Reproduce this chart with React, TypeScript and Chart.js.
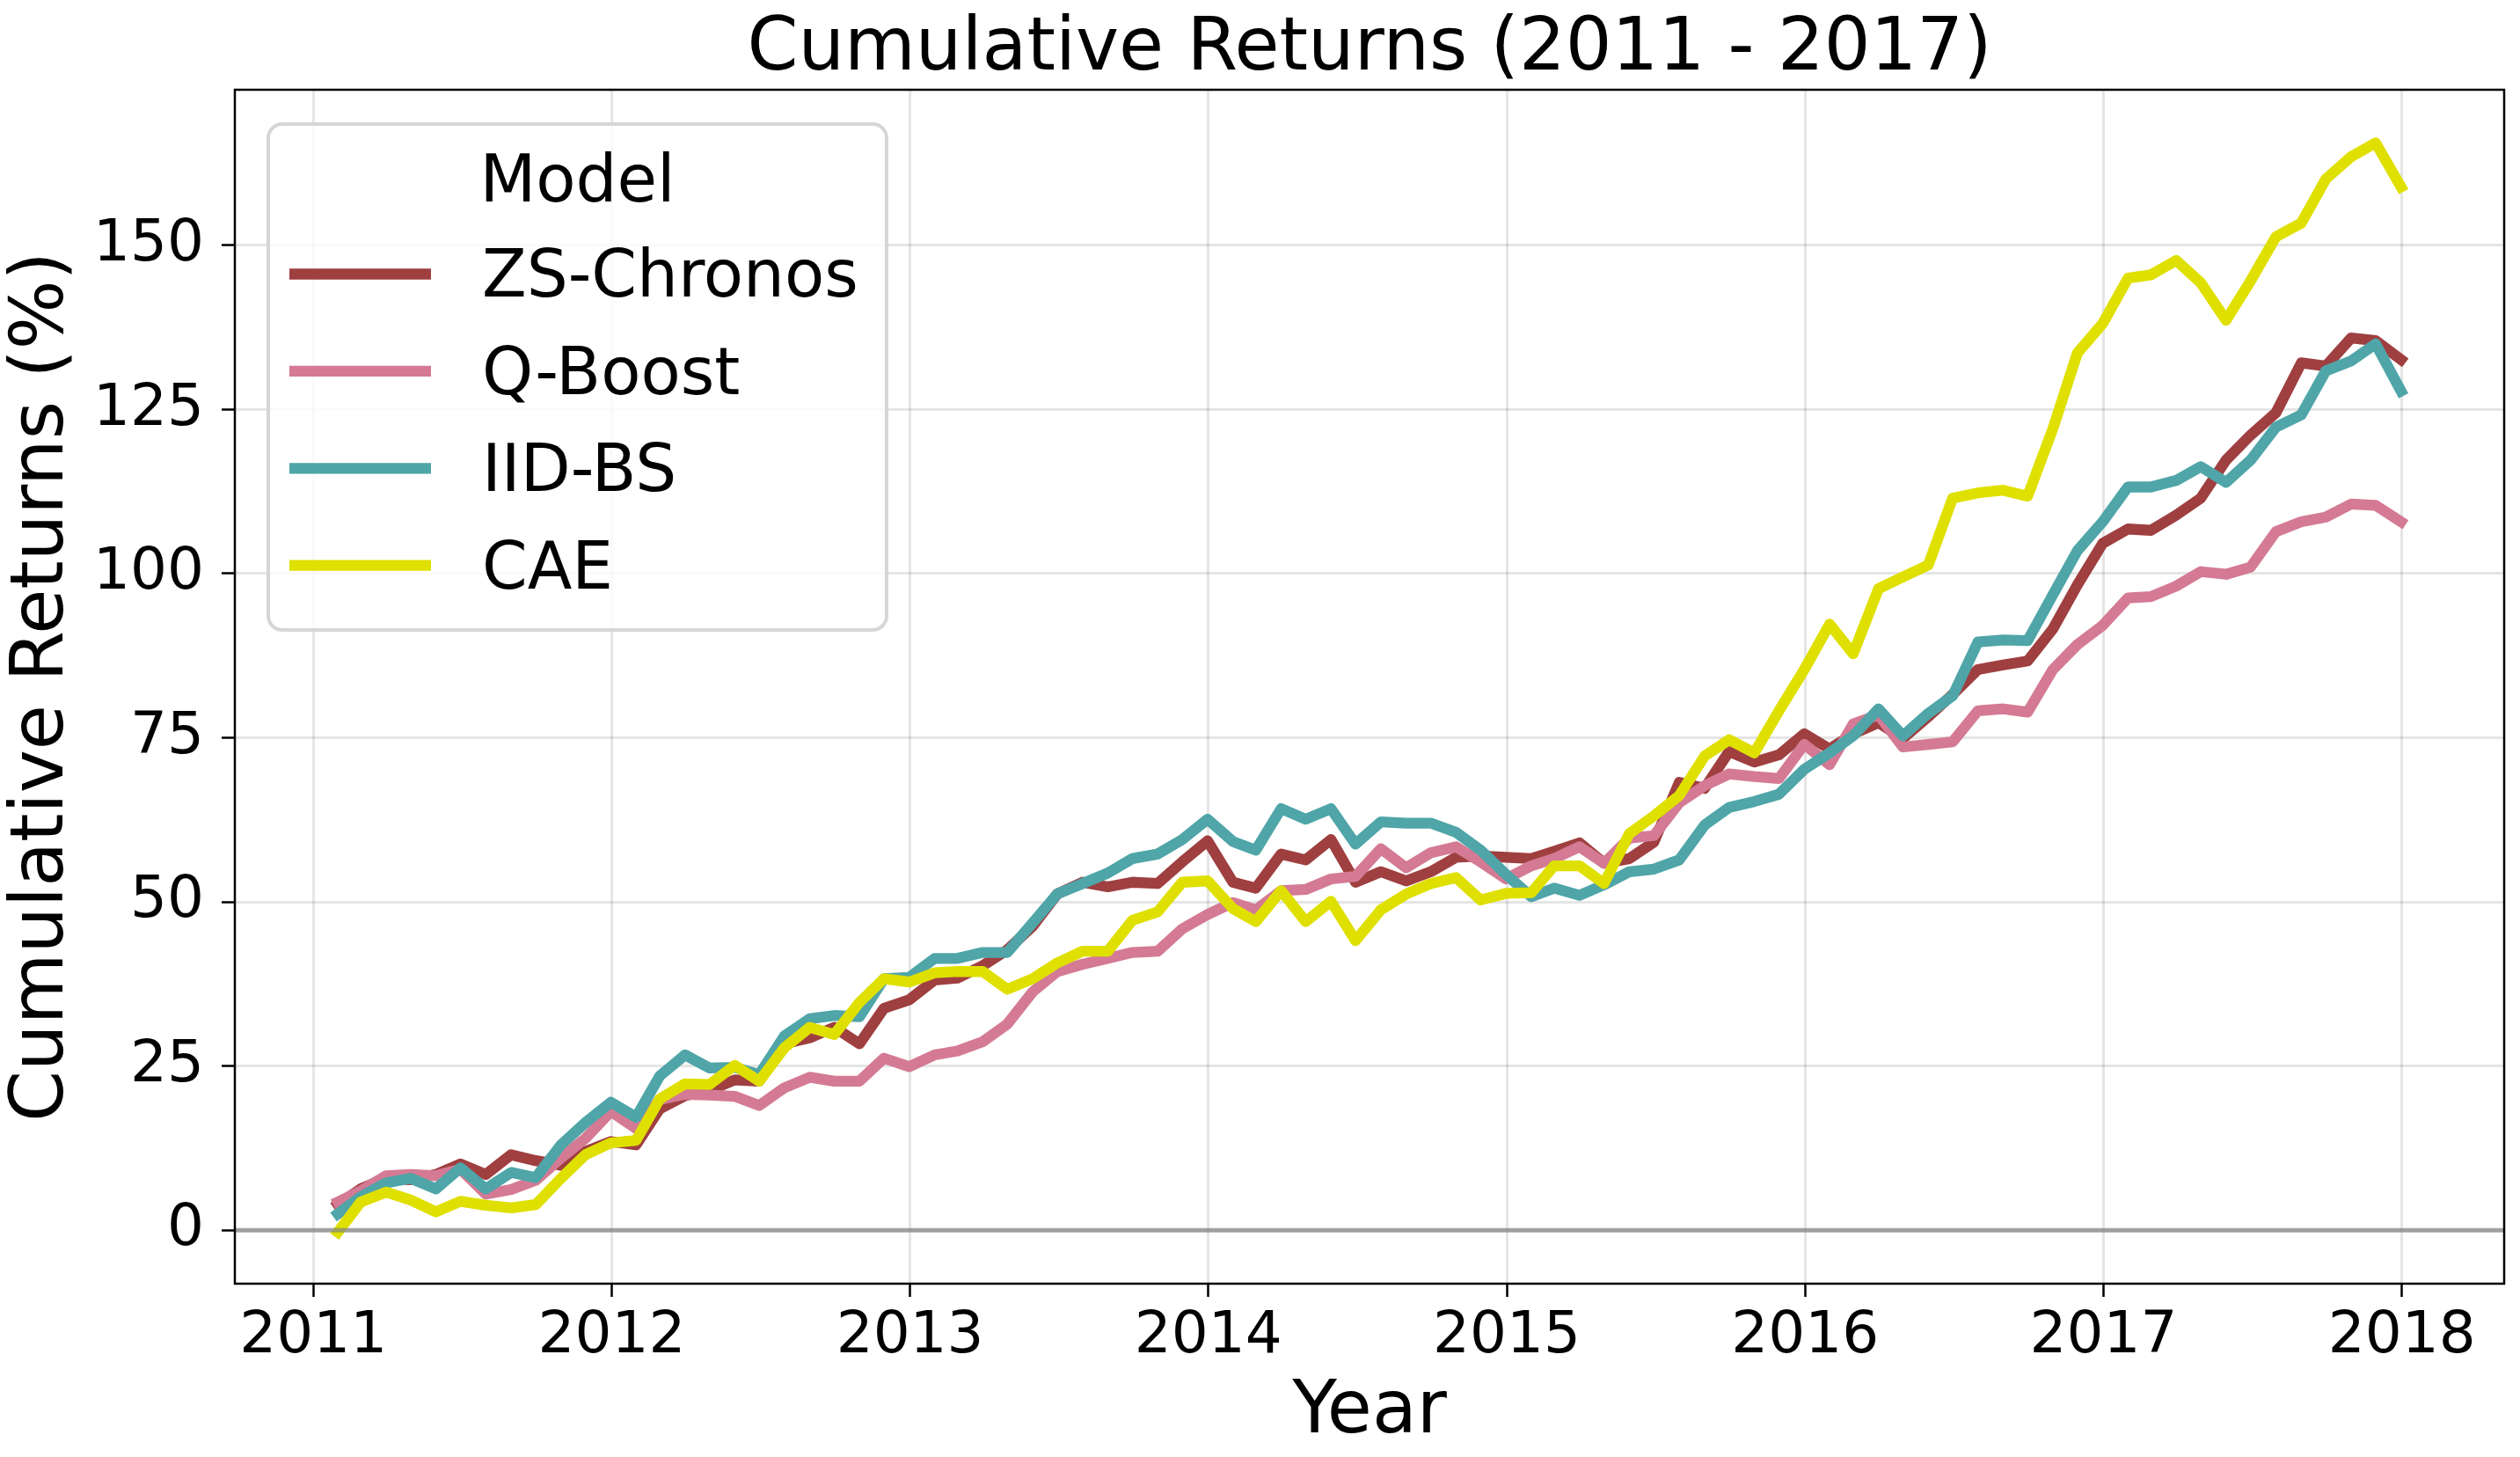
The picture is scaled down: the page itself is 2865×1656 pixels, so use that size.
import React, { useEffect, useRef } from "react";
import { Chart, registerables } from "chart.js";

Chart.register(...registerables);

// Month-end observation dates
const MONTHS: string[] = [
  "2011-01", "2011-02", "2011-03", "2011-04", "2011-05", "2011-06", "2011-07", "2011-08", "2011-09", "2011-10", "2011-11", "2011-12",
  "2012-01", "2012-02", "2012-03", "2012-04", "2012-05", "2012-06", "2012-07", "2012-08", "2012-09", "2012-10", "2012-11", "2012-12",
  "2013-01", "2013-02", "2013-03", "2013-04", "2013-05", "2013-06", "2013-07", "2013-08", "2013-09", "2013-10", "2013-11", "2013-12",
  "2014-01", "2014-02", "2014-03", "2014-04", "2014-05", "2014-06", "2014-07", "2014-08", "2014-09", "2014-10", "2014-11", "2014-12",
  "2015-01", "2015-02", "2015-03", "2015-04", "2015-05", "2015-06", "2015-07", "2015-08", "2015-09", "2015-10", "2015-11", "2015-12",
  "2016-01", "2016-02", "2016-03", "2016-04", "2016-05", "2016-06", "2016-07", "2016-08", "2016-09", "2016-10", "2016-11", "2016-12",
  "2017-01", "2017-02", "2017-03", "2017-04", "2017-05", "2017-06", "2017-07", "2017-08", "2017-09", "2017-10", "2017-11", "2017-12",
];

const ZS_CHRONOS: number[] = [
  3.9, 6.3, 7.9, 7.7, 8.5, 10.1, 8.5, 11.5, 10.6, 9.9, 12.0, 13.5,
  13.0, 18.5, 20.5, 21.3, 22.9, 22.7, 28.4, 29.3, 30.9, 28.4, 33.8, 35.1,
  38.1, 38.4, 40.3, 42.7, 46.3, 51.2, 53.0, 52.3, 53.0, 52.8, 56.1, 59.3,
  53.0, 52.1, 57.3, 56.4, 59.5, 53.0, 54.6, 53.2, 54.6, 56.8, 57.0, 56.8,
  56.6, 57.7, 59.0, 55.9, 56.6, 59.1, 68.2, 67.3, 72.9, 71.3, 72.4, 75.6,
  73.3, 75.6, 77.3, 74.9, 78.2, 81.6, 85.4, 86.1, 86.7, 91.6, 98.3, 104.6,
  106.8, 106.6, 108.9, 111.5, 117.3, 121.1, 124.5, 132.1, 131.6, 135.9, 135.5, 132.6,
];

const Q_BOOST: number[] = [
  4.3, 6.0, 8.3, 8.5, 8.3, 9.3, 5.5, 6.2, 7.6, 11.0, 14.0, 18.1,
  15.5, 19.9, 20.7, 20.6, 20.4, 19.0, 21.7, 23.3, 22.7, 22.7, 26.2, 24.9,
  26.7, 27.3, 28.7, 31.4, 36.3, 39.4, 40.5, 41.4, 42.3, 42.5, 45.9, 48.1,
  49.9, 48.8, 51.7, 51.9, 53.5, 53.9, 58.1, 55.2, 57.5, 58.4, 56.1, 53.5,
  55.5, 56.6, 58.4, 55.9, 59.7, 60.1, 65.1, 67.7, 69.5, 69.1, 68.8, 74.0,
  70.9, 77.1, 78.5, 73.6, 74.0, 74.4, 79.1, 79.4, 78.9, 85.4, 89.2, 92.1,
  96.3, 96.5, 98.1, 100.3, 99.9, 101.0, 106.4, 107.9, 108.6, 110.6, 110.4, 107.9,
];

const IID_BS: number[] = [
  2.5, 5.1, 7.2, 7.9, 6.3, 9.5, 6.3, 8.8, 8.0, 13.0, 16.4, 19.5,
  17.2, 23.5, 26.7, 24.7, 24.8, 23.7, 29.6, 32.2, 32.7, 32.5, 38.3, 38.5,
  41.4, 41.4, 42.3, 42.3, 46.8, 51.2, 52.8, 54.4, 56.6, 57.3, 59.5, 62.6,
  59.2, 57.9, 64.2, 62.6, 64.2, 58.8, 62.2, 62.0, 62.0, 60.6, 57.9, 54.2,
  50.8, 52.1, 51.0, 52.6, 54.6, 55.0, 56.4, 61.7, 64.4, 65.3, 66.4, 70.2,
  72.7, 75.3, 79.4, 75.3, 78.7, 81.4, 89.6, 89.9, 89.8, 96.8, 103.5, 107.9,
  113.2, 113.2, 114.2, 116.3, 113.9, 117.3, 122.3, 124.2, 130.9, 132.4, 135.0, 127.8,
];

const CAE: number[] = [
  -0.3, 4.3, 5.8, 4.6, 2.8, 4.4, 3.8, 3.4, 3.9, 7.9, 11.5, 13.3,
  13.7, 20.0, 22.3, 22.2, 25.1, 22.7, 27.8, 30.9, 29.8, 34.7, 38.3, 37.8,
  39.2, 39.4, 39.4, 36.7, 38.3, 40.7, 42.5, 42.5, 47.2, 48.5, 53.0, 53.2,
  49.0, 47.0, 51.7, 47.0, 50.1, 44.1, 48.8, 51.2, 52.8, 53.7, 50.3, 51.3,
  51.4, 55.5, 55.5, 52.8, 60.4, 63.1, 66.2, 72.2, 74.7, 72.7, 79.1, 85.4,
  92.3, 87.8, 97.7, 99.5, 101.3, 111.5, 112.3, 112.7, 111.8, 122.1, 133.6, 138.1,
  145.0, 145.5, 147.7, 144.3, 138.6, 144.6, 151.3, 153.4, 160.1, 163.5, 165.6, 158.9,
];

const SERIES_NAMES: string[] = ["ZS-Chronos", "Q-Boost", "IID-BS", "CAE"];
const SERIES_VALUES: number[][] = [ZS_CHRONOS, Q_BOOST, IID_BS, CAE];
const SERIES_COLORS: string[] = ["#9f3f40", "#d47a94", "#4fa5a8", "#dfe000"];

const YEAR_TICKS: number[] = [2011, 2012, 2013, 2014, 2015, 2016, 2017, 2018];
const RETURN_TICKS: number[] = [0, 25, 50, 75, 100, 125, 150];

const TITLE = "Cumulative Returns (2011 - 2017)";
const X_LABEL = "Year";
const Y_LABEL = "Cumulative Returns (%)";
const LEGEND_TITLE = "Model";

const FONT = "'DejaVu Sans', 'Liberation Sans', sans-serif";
const LINE_W = 12.3;

// decimal year of the last day of a "YYYY-MM" month
function monthEndToYear(s: string): number {
  const [y, m] = s.split("-").map(Number);
  const end = Date.UTC(y, m, 0);
  const start = Date.UTC(y, 0, 1);
  const next = Date.UTC(y + 1, 0, 1);
  return y + (end - start) / (next - start);
}

const overlayPlugin = {
  id: "overlay",
  afterDatasetsDraw(chart: any) {
    const { ctx, chartArea: a, scales } = chart;
    ctx.save();
    const y0 = scales.y.getPixelForValue(0);
    ctx.strokeStyle = "rgba(128,128,128,0.7)";
    ctx.lineWidth = 5;
    ctx.beginPath();
    ctx.moveTo(a.left, y0);
    ctx.lineTo(a.right, y0);
    ctx.stroke();
    ctx.strokeStyle = "#000";
    ctx.lineWidth = 2.5;
    ctx.strokeRect(a.left, a.top, a.right - a.left, a.bottom - a.top);
    ctx.restore();
  },
  afterDraw(chart: any) {
    const { ctx, chartArea: a } = chart;
    ctx.save();
    // title
    ctx.fillStyle = "#000";
    ctx.font = `83px ${FONT}`;
    ctx.textAlign = "center";
    ctx.textBaseline = "alphabetic";
    ctx.fillText(TITLE, (a.left + a.right) / 2, 79);

    // legend box
    const bx = a.left + 38;
    const by = a.top + 39;
    const bw = 703;
    const bh = 575;
    const r = 16;
    ctx.beginPath();
    ctx.moveTo(bx + r, by);
    ctx.lineTo(bx + bw - r, by);
    ctx.arcTo(bx + bw, by, bx + bw, by + r, r);
    ctx.lineTo(bx + bw, by + bh - r);
    ctx.arcTo(bx + bw, by + bh, bx + bw - r, by + bh, r);
    ctx.lineTo(bx + r, by + bh);
    ctx.arcTo(bx, by + bh, bx, by + bh - r, r);
    ctx.lineTo(bx, by + r);
    ctx.arcTo(bx, by, bx + r, by, r);
    ctx.closePath();
    ctx.fillStyle = "rgba(255,255,255,0.8)";
    ctx.fill();
    ctx.strokeStyle = "#d6d6d6";
    ctx.lineWidth = 4;
    ctx.stroke();

    const fs = 74;
    ctx.font = `${fs}px ${FONT}`;
    ctx.fillStyle = "#000";
    ctx.textAlign = "center";
    ctx.fillText(LEGEND_TITLE, bx + bw / 2, by + 88);
    ctx.textAlign = "left";
    SERIES_NAMES.forEach((name, i) => {
      const hy = by + 170.5 + i * 110.4;
      ctx.strokeStyle = SERIES_COLORS[i];
      ctx.lineWidth = LINE_W;
      ctx.lineCap = "butt";
      ctx.beginPath();
      ctx.moveTo(bx + 24, hy);
      ctx.lineTo(bx + 185, hy);
      ctx.stroke();
      ctx.fillStyle = "#000";
      ctx.fillText(name, bx + 243, hy + 0.35 * fs);
    });
    ctx.restore();
  },
};

export default function App() {
  const canvasRef = useRef<HTMLCanvasElement | null>(null);

  useEffect(() => {
    if (!canvasRef.current) return;
    const xs = MONTHS.map(monthEndToYear);
    const datasets = SERIES_NAMES.map((name, i) => ({
      label: name,
      data: SERIES_VALUES[i].map((v, j) => ({ x: xs[j], y: v })),
      borderColor: SERIES_COLORS[i],
      backgroundColor: SERIES_COLORS[i],
      borderWidth: LINE_W,
      pointRadius: 0,
      tension: 0,
      borderCapStyle: "square" as const,
      borderJoinStyle: "round" as const,
      fill: false,
      order: SERIES_NAMES.length - i,
    }));

    const chart = new Chart(canvasRef.current, {
      type: "line",
      data: { datasets },
      options: {
        animation: false,
        responsive: false,
        devicePixelRatio: 1,
        layout: { padding: { left: 0, top: 102, right: 18, bottom: 0 } },
        plugins: {
          legend: { display: false },
          title: { display: false },
          tooltip: { enabled: false },
        },
        scales: {
          x: {
            type: "linear",
            min: 2010.737,
            max: 2018.343,
            afterFit: (s: any) => {
              s.height = 197;
            },
            afterBuildTicks: (s: any) => {
              s.ticks = YEAR_TICKS.map((v) => ({ value: v }));
            },
            ticks: {
              callback: (v: any) => String(v),
              font: { family: FONT, size: 66 },
              color: "#000",
              padding: 6,
              maxRotation: 0,
              autoSkip: false,
            },
            grid: {
              color: "rgba(0,0,0,0.1)",
              lineWidth: 3,
              tickColor: "#000",
              tickWidth: 2.5,
              tickLength: 15,
            },
            border: { display: false },
            title: {
              display: true,
              text: X_LABEL,
              font: { family: FONT, size: 83 },
              color: "#000",
              padding: 0,
            },
          },
          y: {
            type: "linear",
            min: -8.14,
            max: 173.7,
            afterFit: (s: any) => {
              s.width = 267;
            },
            afterBuildTicks: (s: any) => {
              s.ticks = RETURN_TICKS.map((v) => ({ value: v }));
            },
            ticks: {
              callback: (v: any) => String(v),
              font: { family: FONT, size: 66 },
              color: "#000",
              padding: 20,
              autoSkip: false,
            },
            grid: {
              color: "rgba(0,0,0,0.1)",
              lineWidth: 3,
              tickColor: "#000",
              tickWidth: 2.5,
              tickLength: 15,
            },
            border: { display: false },
            title: {
              display: true,
              text: Y_LABEL,
              font: { family: FONT, size: 83 },
              color: "#000",
              padding: 0,
            },
          },
        },
      },
      plugins: [overlayPlugin],
    });
    return () => chart.destroy();
  }, []);

  return (
    <div style={{ position: "fixed", left: 0, top: 0, width: 2865, height: 1656, background: "#fff" }}>
      <canvas ref={canvasRef} width={2865} height={1656} style={{ display: "block", width: 2865, height: 1656 }} />
    </div>
  );
}
